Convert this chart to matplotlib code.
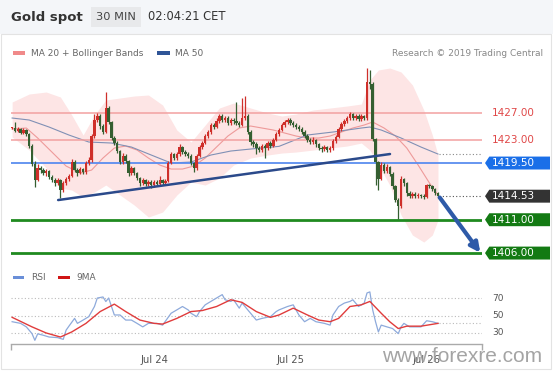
#!/usr/bin/env python3
"""Gold spot 30 MIN chart - candles, bollinger bands, RSI pane"""

import numpy as np
import matplotlib
matplotlib.use("Agg")
import matplotlib.pyplot as plt
from matplotlib import transforms
from matplotlib.patches import Polygon, Rectangle

W, H = 553, 375

# --- price data (30 min bars, bar 0 = first visible bar) ---
first_open = 1424.7
closes = [
    1424.8, 1424.3, 1424.6, 1424.0, 1424.4, 1423.8, 1422.0, 1419.4, 1417.0, 1418.8,
    1418.4, 1418.0, 1418.3, 1417.4, 1417.0, 1416.5, 1416.9, 1415.4, 1416.5, 1417.1,
    1417.6, 1419.7, 1418.5, 1418.0, 1418.6, 1418.1, 1419.5, 1419.9, 1423.6, 1426.0,
    1426.6, 1425.0, 1424.2, 1427.8, 1425.6, 1423.2, 1422.5, 1421.3, 1419.7, 1420.6,
    1419.8, 1418.0, 1418.7, 1418.0, 1417.2, 1416.5, 1416.9, 1416.3, 1416.6, 1416.2,
    1416.7, 1416.4, 1416.9, 1416.5, 1416.8, 1419.5, 1420.8, 1420.3, 1420.8, 1421.9,
    1421.2, 1420.8, 1420.6, 1419.5, 1418.7, 1420.6, 1421.9, 1422.5, 1423.5, 1424.1,
    1425.2, 1424.9, 1425.8, 1426.5, 1426.0, 1426.3, 1425.5, 1426.0, 1425.8, 1425.5,
    1425.2, 1426.3, 1426.6, 1424.2, 1422.6, 1422.3, 1421.8, 1421.5, 1422.0, 1421.7,
    1422.5, 1422.1, 1423.0, 1423.8, 1424.5, 1425.2, 1425.6, 1426.0, 1425.5, 1425.2,
    1424.9, 1424.6, 1424.2, 1423.6, 1423.0, 1422.6, 1422.9, 1422.3, 1421.8, 1421.6,
    1421.9, 1421.5, 1421.7, 1422.8, 1423.4, 1424.6, 1425.3, 1425.8, 1426.3, 1426.8,
    1426.2, 1426.6, 1426.1, 1426.5, 1426.2, 1431.6, 1431.3, 1423.1, 1419.6, 1417.1,
    1419.2, 1418.3, 1418.9, 1417.9, 1416.0, 1414.0, 1413.0, 1417.1, 1416.5, 1415.0,
    1414.6, 1414.9, 1414.5, 1414.7, 1414.6, 1414.4, 1416.2, 1416.0, 1415.6, 1415.0,
    1414.53,
]
highs = [
    1424.9, 1425.6, 1424.9, 1424.8, 1424.7, 1424.6, 1424.0, 1422.3, 1419.8, 1419.3,
    1419.1, 1418.7, 1418.6, 1418.5, 1417.7, 1417.3, 1417.2, 1417.1, 1416.8, 1417.4,
    1417.9, 1420.1, 1419.9, 1418.8, 1418.9, 1418.8, 1419.8, 1420.4, 1423.9, 1426.8,
    1427.0, 1426.8, 1425.3, 1430.1, 1428.1, 1425.8, 1423.5, 1422.8, 1421.5, 1421.0,
    1420.9, 1420.0, 1419.0, 1418.9, 1418.2, 1417.4, 1417.3, 1417.1, 1417.0, 1416.9,
    1417.0, 1416.9, 1417.5, 1417.1, 1417.1, 1419.8, 1421.1, 1421.0, 1421.1, 1422.4,
    1422.1, 1421.4, 1421.1, 1420.8, 1419.7, 1420.9, 1422.2, 1422.8, 1423.8, 1424.4,
    1425.5, 1425.5, 1426.2, 1426.9, 1426.8, 1426.6, 1426.5, 1426.3, 1426.3, 1428.6,
    1425.8, 1429.3, 1429.5, 1426.9, 1424.4, 1422.9, 1422.6, 1422.1, 1422.4, 1422.3,
    1422.8, 1422.8, 1423.3, 1424.1, 1424.8, 1425.5, 1426.0, 1426.3, 1426.2, 1425.8,
    1425.5, 1425.2, 1424.9, 1424.4, 1423.9, 1423.3, 1423.4, 1423.1, 1422.5, 1422.1,
    1422.2, 1422.1, 1422.0, 1423.1, 1423.7, 1424.9, 1425.6, 1426.1, 1426.6, 1427.1,
    1427.0, 1426.9, 1426.8, 1426.8, 1426.7, 1433.8, 1433.5, 1431.6, 1423.3, 1419.8,
    1419.6, 1419.5, 1419.3, 1419.1, 1418.1, 1416.2, 1414.3, 1417.5, 1417.3, 1416.7,
    1415.3, 1415.2, 1415.1, 1415.0, 1414.9, 1414.8, 1416.4, 1416.4, 1416.2, 1415.8,
    1415.2,
]
lows = [
    1424.6, 1424.1, 1424.1, 1423.8, 1423.8, 1423.5, 1421.7, 1419.0, 1415.9, 1416.8,
    1418.0, 1417.7, 1417.6, 1417.1, 1416.7, 1416.1, 1416.2, 1414.2, 1415.1, 1416.2,
    1416.8, 1417.4, 1418.2, 1417.6, 1417.8, 1417.8, 1417.9, 1419.2, 1419.7, 1423.3,
    1425.6, 1424.6, 1423.9, 1424.0, 1425.3, 1422.9, 1422.2, 1421.0, 1419.3, 1419.4,
    1419.5, 1417.5, 1417.7, 1417.7, 1416.9, 1416.1, 1416.2, 1416.0, 1416.0, 1415.7,
    1415.9, 1416.1, 1416.2, 1416.2, 1416.2, 1416.6, 1419.3, 1420.0, 1420.0, 1420.6,
    1420.9, 1420.5, 1420.3, 1419.2, 1418.2, 1418.5, 1420.4, 1421.6, 1422.3, 1423.2,
    1423.9, 1424.6, 1424.7, 1425.5, 1425.7, 1425.7, 1425.2, 1425.2, 1425.4, 1425.2,
    1424.9, 1425.0, 1426.0, 1423.9, 1422.2, 1421.9, 1420.9, 1421.1, 1421.2, 1420.2,
    1421.4, 1421.8, 1421.9, 1422.8, 1423.5, 1424.3, 1424.9, 1425.3, 1425.2, 1424.9,
    1424.6, 1424.3, 1423.9, 1423.3, 1422.6, 1422.3, 1422.3, 1421.9, 1421.4, 1421.2,
    1421.3, 1421.2, 1421.2, 1421.5, 1422.5, 1423.2, 1424.3, 1425.0, 1425.5, 1426.0,
    1425.9, 1425.9, 1425.8, 1425.8, 1425.9, 1426.0, 1430.6, 1422.8, 1416.2, 1415.5,
    1416.9, 1418.0, 1418.0, 1417.5, 1415.6, 1413.6, 1411.1, 1412.8, 1416.1, 1414.6,
    1414.2, 1414.3, 1414.2, 1414.2, 1414.3, 1414.1, 1414.2, 1415.7, 1415.3, 1414.7,
    1414.3,
]

# indicators
ma20_bars = [0, 5, 9, 14, 19, 24, 28, 32, 36, 40, 44, 48, 52, 56, 60, 64, 68, 72, 76,
             80, 84, 88, 92, 96, 100, 104, 108, 112, 116, 120, 124, 127, 131, 135,
             139, 143, 147, 150]
ma20_vals = [1424.6, 1424.75, 1423.25, 1421.15, 1419.05, 1418.0, 1418.45, 1420.25,
             1421.75, 1422.05, 1421.45, 1420.25, 1419.2, 1418.6, 1418.6, 1419.05,
             1420.25, 1421.9, 1423.55, 1424.75, 1425.05, 1424.75, 1424.45, 1424.0,
             1423.55, 1423.25, 1423.25, 1423.55, 1424.15, 1424.75, 1425.2, 1425.65,
             1424.75, 1423.55, 1421.75, 1419.2, 1416.5, 1414.7]
ma50_bars = [0, 6, 13, 20, 27, 35, 42, 49, 56, 63, 70, 77, 84, 94, 104, 113, 123,
             126, 130, 137, 144, 150]
ma50_vals = [1426.25, 1425.95, 1424.9, 1423.7, 1422.65, 1422.5, 1421.9, 1420.7,
             1419.5, 1419.65, 1420.7, 1421.3, 1421.6, 1422.0, 1423.7, 1424.15,
             1424.75, 1424.9, 1424.45, 1423.25, 1421.9, 1420.85]
bb_bars = [0, 6, 12, 17, 21, 25, 29, 33, 38, 43, 48, 53, 58, 63, 68, 73, 78, 84, 90,
           95, 100, 106, 112, 118, 123, 126, 129, 133, 137, 141, 145, 148, 150]
bb_upper = [1428.65, 1429.85, 1430.15, 1429.4, 1426.7, 1423.7, 1426.7, 1428.95,
            1429.25, 1429.55, 1429.7, 1428.2, 1424.45, 1422.65, 1425.2, 1427.75,
            1428.5, 1427.75, 1427.0, 1426.55, 1426.85, 1427.45, 1427.75, 1428.05,
            1428.35, 1431.95, 1433.45, 1433.75, 1433.15, 1431.2, 1427.45, 1423.7,
            1420.7]
bb_lower = [1423.4, 1421.45, 1418.75, 1415.75, 1415.45, 1414.4, 1415.15, 1416.2,
            1414.7, 1413.2, 1411.4, 1412.15, 1414.7, 1416.65, 1416.2, 1417.25,
            1419.2, 1420.25, 1420.7, 1421.0, 1421.15, 1421.45, 1421.75, 1422.05,
            1422.5, 1421.45, 1419.2, 1416.2, 1411.7, 1408.7, 1407.65, 1408.7,
            1410.95]

rsi_bars = [0, 3, 5, 7, 8, 9, 11, 13, 16, 18, 19, 20, 22, 23, 25, 27, 29, 30, 32,
            33, 34, 35, 36, 38, 40, 42, 44, 46, 48, 51, 53, 56, 58, 60, 62, 63, 65,
            66, 68, 70, 72, 74, 75, 77, 78, 80, 81, 83, 85, 86, 88, 91, 93, 94, 97,
            99, 101, 103, 105, 107, 110, 112, 113, 115, 117, 119, 120, 122, 124,
            125, 126, 127, 128, 129, 130, 132, 134, 136, 137, 138, 140, 144, 146,
            148, 150]
rsi_vals = [42.9, 41.0, 37.0, 29.3, 21.6, 29.0, 27.4, 25.4, 24.7, 22.7, 33.2, 37.8,
            46.7, 41.0, 44.8, 48.7, 60.3, 70.0, 71.2, 66.0, 70.0, 60.3, 50.6, 50.6,
            44.8, 44.8, 41.0, 37.0, 41.0, 41.0, 39.0, 52.6, 56.4, 60.3, 56.4, 52.6,
            48.7, 54.5, 62.2, 66.1, 70.0, 73.9, 68.0, 66.1, 68.0, 58.4, 64.2, 56.4,
            48.7, 44.8, 46.7, 48.7, 54.5, 56.4, 60.3, 62.2, 50.6, 42.9, 46.7, 42.9,
            41.0, 39.0, 50.6, 60.3, 64.2, 66.1, 68.0, 60.3, 64.2, 75.8, 77.0, 56.4,
            42.9, 31.2, 39.0, 37.0, 35.1, 29.3, 37.0, 41.0, 37.0, 37.0, 44.0, 42.9,
            41.0]
rsi_ma_bars = [0, 7, 12, 17, 21, 26, 31, 36, 40, 45, 50, 53, 58, 63, 67, 72, 77, 81,
               86, 91, 94, 99, 104, 108, 112, 115, 119, 123, 126, 130, 133, 136, 139,
               144, 150]
rsi_ma_vals = [47.9, 37.0, 30.0, 25.4, 31.2, 41.0, 54.5, 63.0, 54.5, 44.8, 41.0,
               40.2, 46.7, 54.5, 55.7, 60.3, 68.0, 65.0, 54.5, 47.9, 50.6, 58.4,
               50.6, 44.8, 42.9, 46.7, 60.3, 62.2, 66.1, 52.6, 42.9, 35.1, 37.8,
               37.8, 41.0]

resistances = [1427.0, 1423.0]
pivot = 1419.5
supports = [1411.0, 1406.0]
trend_bars = [16.2, 133.1]
trend_vals = [1413.95, 1420.85]
target = 1406.0
day_ticks = [50, 98, 146]
day_labels = ["Jul 24", "Jul 25", "Jul 26"]
rsi_levels = [70, 50, 30]

UP = "#cf2f2a"
DOWN = "#355f31"
XMAX = 165.5


def fx(x):
    return x / W


def fy(y):
    return 1 - y / H


def draw_tag(ax, y, text, fc):
    trans = transforms.blended_transform_factory(ax.transAxes, ax.transData)
    x0, xt, x1, hh = 1.0064, 1.0155, 1.1444, 0.97
    pts = [(x0, y), (xt, y + hh), (x1, y + hh), (x1, y - hh), (xt, y - hh)]
    ax.add_patch(Polygon(pts, closed=True, transform=trans, facecolor=fc,
                         edgecolor="none", clip_on=False, zorder=6))
    ax.text(1.0658, y, text, transform=trans, ha="center", va="center",
            color="white", fontsize=7.5, clip_on=False, zorder=7)


fig = plt.figure(figsize=(W / 100, H / 100), dpi=100)

# header band and frame
fig.patches.append(Rectangle((0, fy(34)), 1, 34 / H, transform=fig.transFigure,
                             facecolor="#f4f6f9", edgecolor="none", zorder=0))
fig.patches.append(Rectangle((fx(1), fy(369)), fx(550), (369 - 34) / H,
                             transform=fig.transFigure, facecolor="none",
                             edgecolor="#e3e3e3", lw=0.8, zorder=0))
fig.text(fx(11), fy(17), "Gold spot", fontsize=9.5, fontweight="bold",
         color="#333333", va="center")
fig.text(fx(96), fy(17), "30 MIN", fontsize=8.2, color="#444444", va="center",
         bbox=dict(boxstyle="square,pad=0.45", fc="#e8e9eb", ec="none"))
fig.text(fx(148), fy(17), "02:04:21 CET", fontsize=8.3, color="#333333",
         va="center")

# legends
fig.patches.append(Rectangle((fx(13), fy(55)), fx(12), 4 / H, transform=fig.transFigure,
                             facecolor="#f08a8a", edgecolor="none"))
fig.text(fx(31), fy(53), "MA 20 + Bollinger Bands", fontsize=6.5, color="#666666",
         va="center")
fig.patches.append(Rectangle((fx(157), fy(55)), fx(13), 4 / H, transform=fig.transFigure,
                             facecolor="#2f5597", edgecolor="none"))
fig.text(fx(175), fy(53), "MA 50", fontsize=6.5, color="#666666", va="center")
fig.text(fx(543), fy(53), "Research \u00a9 2019 Trading Central", fontsize=6.5,
         color="#888888", va="center", ha="right")

fig.patches.append(Rectangle((fx(13), fy(279)), fx(11), 3.5 / H, transform=fig.transFigure,
                             facecolor="#6a8fd8", edgecolor="none"))
fig.text(fx(31), fy(277), "RSI", fontsize=6.5, color="#666666", va="center")
fig.patches.append(Rectangle((fx(58), fy(279)), fx(12), 3.5 / H, transform=fig.transFigure,
                             facecolor="#d01515", edgecolor="none"))
fig.text(fx(76), fy(277), "9MA", fontsize=6.5, color="#666666", va="center")

# --- price pane ---
ax = fig.add_axes([fx(11), fy(258), fx(471), 196 / H])
ax.set_xlim(-0.4, XMAX)
ax.set_ylim(1405.26, 1434.65)
ax.axis("off")

ax.fill_between(bb_bars, bb_lower, bb_upper, color="#fde5e5", lw=0, zorder=1)
ax.plot(ma20_bars, ma20_vals, color="#ee9a9a", lw=0.8, zorder=2)
ax.plot(ma50_bars, ma50_vals, color="#8090b5", lw=0.8, zorder=2)

for lv in resistances:
    ax.axhline(lv, color="#f2a0a0", lw=1.1, zorder=3)
ax.axhline(pivot, color="#5b8def", lw=1.3, zorder=3)
for lv in supports:
    ax.axhline(lv, color="#1f8a1f", lw=2.0, zorder=3)

closes_a = np.array(closes)
opens_a = np.concatenate([[first_open], closes_a[:-1]])
bars = np.arange(len(closes_a))
colors = [UP if c >= o else DOWN for o, c in zip(opens_a, closes_a)]
ax.vlines(bars, lows, highs, colors=colors, lw=0.9, zorder=4)
body_lo = np.minimum(opens_a, closes_a)
body_h = np.maximum(np.abs(closes_a - opens_a), 0.15)
ax.bar(bars, body_h, bottom=body_lo, width=0.85, color=colors, lw=0, zorder=5)

ax.plot(trend_bars, trend_vals, color="#2b4a8b", lw=1.8, zorder=5,
        solid_capstyle="round")

last = len(closes) - 1
ax.hlines(ma50_vals[-1], last + 0.5, XMAX, colors="#888888", lw=0.8,
          linestyles=(0, (1, 2)), zorder=3)
ax.hlines(closes[-1], last + 0.5, XMAX, colors="#555555", lw=0.8,
          linestyles=(0, (1, 2)), zorder=3)

ax.annotate("", xy=(XMAX - 0.6, target + 0.05), xytext=(last + 0.6, closes[-1] - 0.2),
            arrowprops=dict(arrowstyle="-|>", color="#2e5aa8", lw=3,
                            mutation_scale=14, shrinkA=0, shrinkB=0),
            annotation_clip=False, zorder=8)

trans = transforms.blended_transform_factory(ax.transAxes, ax.transData)
for lv in resistances:
    ax.text(1.0658, lv, f"{lv:.2f}", transform=trans, ha="center", va="center",
            color="#e04848", fontsize=7.5, clip_on=False)
draw_tag(ax, pivot, f"{pivot:.2f}", "#1a6fe8")
draw_tag(ax, closes[-1], f"{closes[-1]:.2f}", "#333333")
for lv in supports:
    draw_tag(ax, lv, f"{lv:.2f}", "#137a13")

# --- RSI pane ---
rx = fig.add_axes([fx(11), fy(344), fx(471), 59 / H])
rx.set_xlim(-0.4, XMAX)
rx.set_ylim(17.4, 84.9)
for s in ["top", "left", "right"]:
    rx.spines[s].set_visible(False)
rx.spines["bottom"].set_color("#aaaaaa")
rx.spines["bottom"].set_linewidth(1.0)
rx.set_yticks([])
rx.set_xticks(day_ticks)
rx.set_xticklabels(day_labels, fontsize=7.2, color="#555555")
rx.tick_params(axis="x", length=0, pad=8)
rx.set_xticks([-0.4, XMAX], minor=True)
rx.tick_params(axis="x", which="minor", length=4, color="#aaaaaa", width=1)

for lv in rsi_levels:
    rx.axhline(lv, color="#bbbbbb", lw=0.8, linestyle=(0, (1, 2)))
    rx.text(1.021, lv, str(lv), transform=transforms.blended_transform_factory(
        rx.transAxes, rx.transData), fontsize=6.5, color="#555555", va="center",
        clip_on=False)
rx.plot(rsi_bars, rsi_vals, color="#8eaadb", lw=0.9)
rx.plot(rsi_ma_bars, rsi_ma_vals, color="#e03c3c", lw=1.0)
rx.hlines(rsi_vals[-1], rsi_bars[-1] + 0.5, XMAX, colors="#bbbbbb", lw=0.8,
          linestyles=(0, (1, 2)))

# watermark sits over the last date label, as in the source image
fig.text(fx(462), fy(357), "www.forexre.com", fontsize=15, color="#9a9a9a",
         ha="center", va="center", family=["Liberation Sans", "DejaVu Sans"],
         alpha=0.9)

fig.savefig("out.png", dpi=100)
